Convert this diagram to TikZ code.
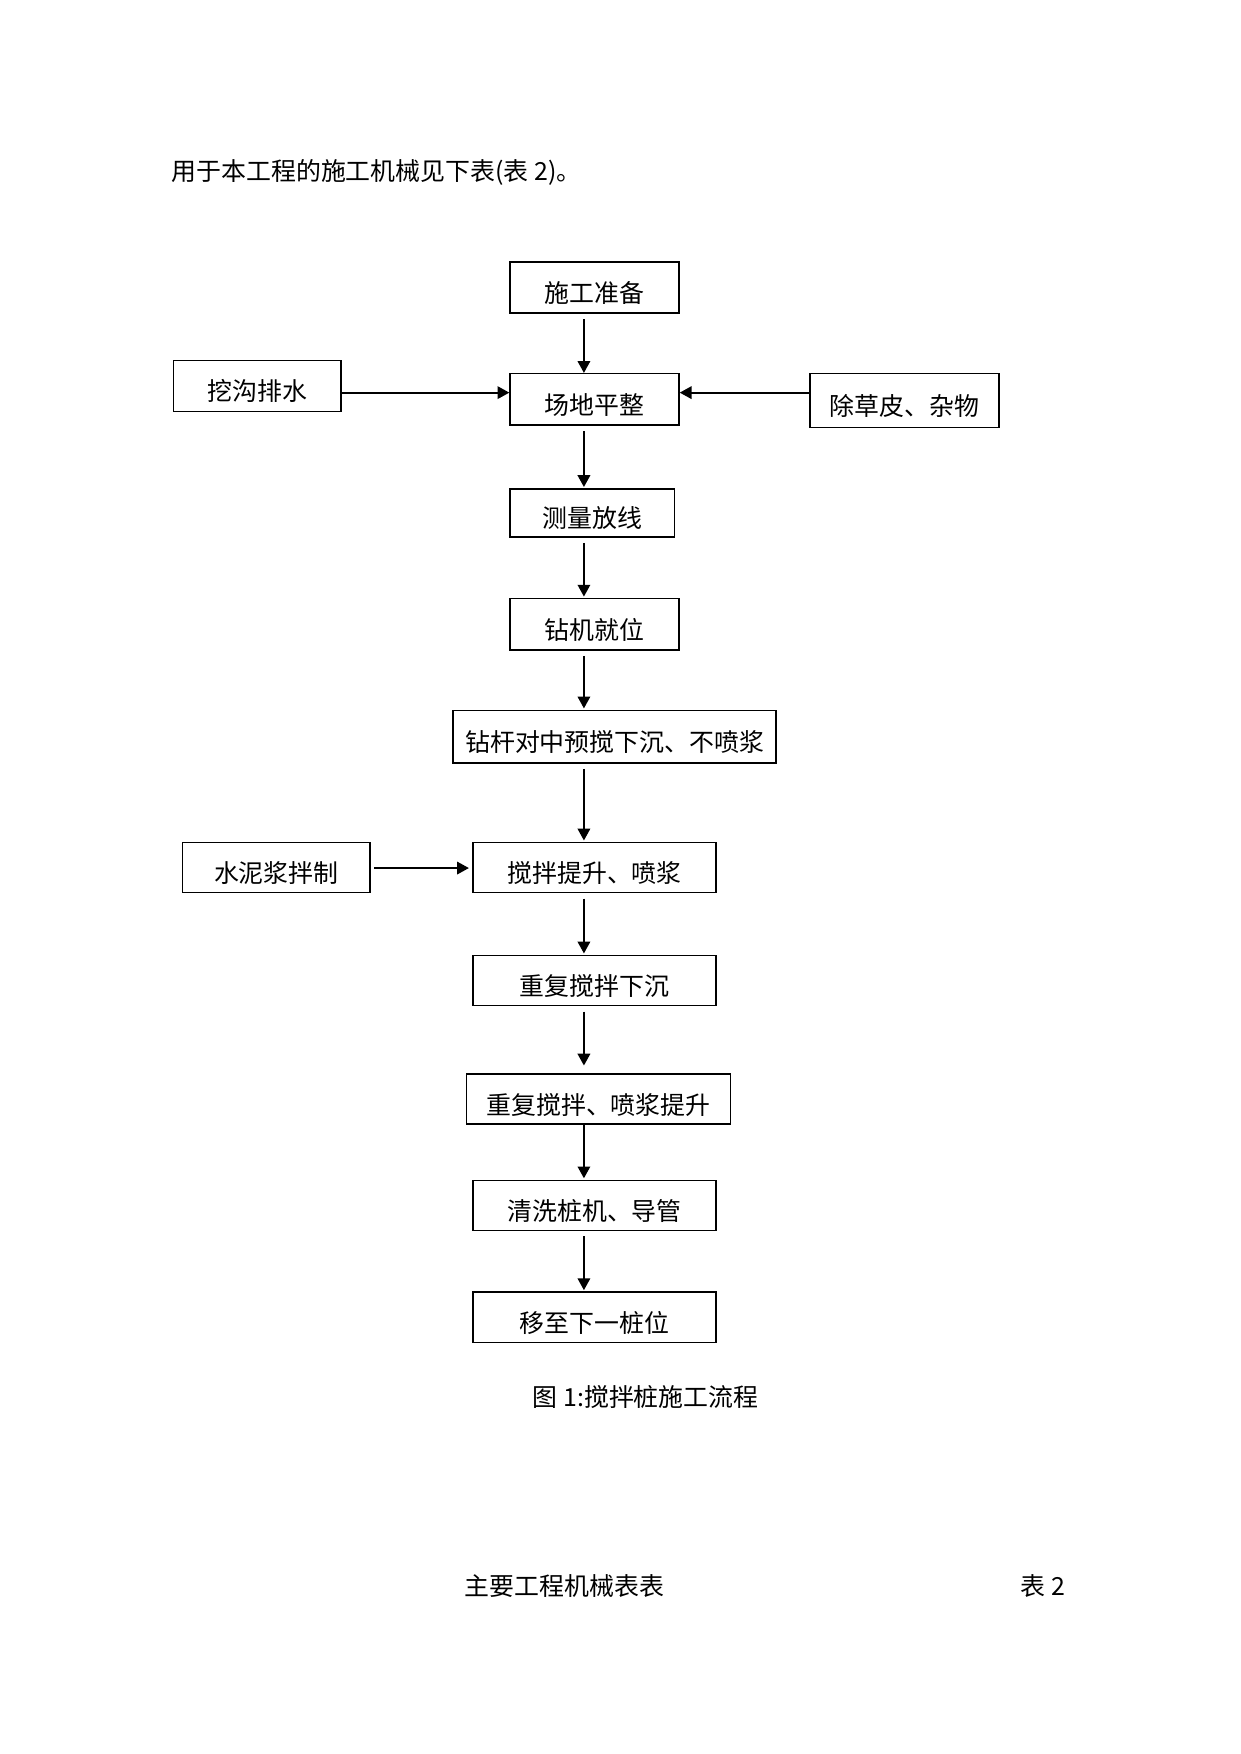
\documentclass[tikz,border=0pt]{standalone}
\usepackage{fontspec}
\setmainfont{Noto Sans CJK SC}
\usetikzlibrary{arrows.meta,positioning,calc}
\tikzset{
    procbox/.style={draw,rectangle,line width=0.7pt,inner sep=0pt,minimum height=8.7mm,text height=14.5pt,text depth=0pt,font=\fontsize{12pt}{14pt}\selectfont},
    flow/.style={-{Triangle[length=2mm,width=2.1mm]},line width=1pt,shorten <=0.9mm,shorten >=0.2mm},
    plain text/.style={anchor=base west,inner sep=0pt,font=\fontsize{12pt}{14pt}\selectfont},
}

\begin{document}
\begin{tikzpicture}[x=0.1894mm,y=-0.1894mm]
    \useasboundingbox (0,0) rectangle (1109,1568);

    \node[plain text] (intro) at (153,161) {用于本工程的施工机械见下表(表 2)。};

    % main column
    \node[procbox,minimum width=28.6mm] (sgzb) at (531.5,257) {施工准备};
    \node[procbox,minimum width=28.6mm] (cdpz) at (531.5,357) {场地平整};
    \node[procbox,minimum width=27.8mm,minimum height=8.1mm] (clfx) at (529.5,458.5) {测量放线};
    \node[procbox,minimum width=28.6mm] (zjjw) at (531.5,558) {钻机就位};
    \node[procbox,minimum width=54.7mm,minimum height=8.9mm] (zgdz) at (549.5,658.5) {钻杆对中预搅下沉、不喷浆};
    \node[procbox,minimum width=41.1mm,minimum height=8.5mm] (jbts) at (531.5,775.5) {搅拌提升、喷浆};
    \node[procbox,minimum width=41.1mm,minimum height=8.5mm] (cfxc) at (531.5,876.5) {重复搅拌下沉};
    \node[procbox,minimum width=44.7mm,minimum height=8.5mm] (cfts) at (535,982.5) {重复搅拌、喷浆提升};
    \node[procbox,minimum width=41.1mm,minimum height=8.5mm] (qxzj) at (531.5,1077.5) {清洗桩机、导管};
    \node[procbox,minimum width=41.1mm,minimum height=8.5mm] (yzxy) at (531.5,1177.5) {移至下一桩位};

    % side boxes
    \node[procbox,minimum width=28.4mm] (wgps) at (230,345) {挖沟排水};
    \node[procbox,minimum width=32mm,minimum height=9.1mm] (ccpzw) at (808.5,358) {除草皮、杂物};
    \node[procbox,minimum width=31.8mm,minimum height=8.5mm] (snjbz) at (247,775.5) {水泥浆拌制};

    \coordinate (axis) at (522,0);
    \coordinate (row1) at (0,351);
    \coordinate (row2) at (0,776);

    \draw[flow,shorten <=0.9mm,shorten >=0mm] (sgzb.south -| axis) -- (cdpz.north -| axis);
    \draw[flow] (cdpz.south -| axis) -- (clfx.north -| axis);
    \draw[flow] (clfx.south -| axis) -- (zjjw.north -| axis);
    \draw[flow] (zjjw.south -| axis) -- (zgdz.north -| axis);
    \draw[flow] (zgdz.south -| axis) -- (jbts.north -| axis);
    \draw[flow] (jbts.south -| axis) -- (cfxc.north -| axis);
    \draw[flow,shorten >=1.3mm] (cfxc.south -| axis) -- (cfts.north -| axis);
    \draw[flow,shorten <=0mm] (cfts.south -| axis) -- (qxzj.north -| axis);
    \draw[flow] (qxzj.south -| axis) -- (yzxy.north -| axis);

    \draw[flow,shorten <=0mm,shorten >=0mm] (wgps.east |- row1) -- (cdpz.west |- row1);
    \draw[flow,shorten <=0mm,shorten >=0mm] (ccpzw.west |- row1) -- (cdpz.east |- row1);
    \draw[flow,shorten <=0.6mm,shorten >=0.6mm] (snjbz.east |- row2) -- (jbts.west |- row2);

    \node[plain text] (caption) at (476,1257) {图 1:搅拌桩施工流程};
    \node[plain text] (tbltitle) at (415,1426) {主要工程机械表表};
    \node[plain text] (tblno) at (912,1426) {表 2};
\end{tikzpicture}
\end{document}
